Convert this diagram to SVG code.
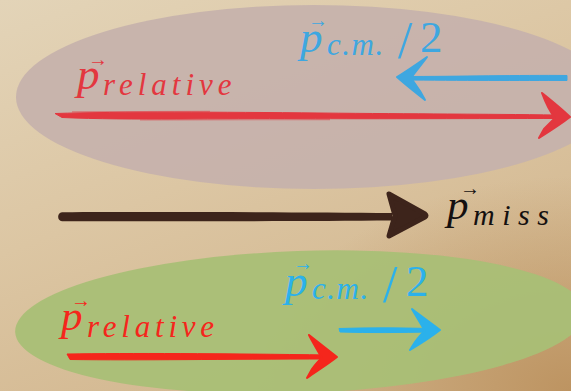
<svg xmlns="http://www.w3.org/2000/svg" width="571" height="391" viewBox="0 0 571 391">
<defs>
<linearGradient id="bg" x1="0" y1="0" x2="0.55" y2="1">
<stop offset="0" stop-color="#e3d4b8"/>
<stop offset="0.5" stop-color="#dcc6a3"/>
<stop offset="1" stop-color="#d2b68e"/>
</linearGradient>
<radialGradient id="vig" cx="1" cy="1" r="0.55">
<stop offset="0" stop-color="#b4854e" stop-opacity="0.7"/>
<stop offset="1" stop-color="#b4854e" stop-opacity="0"/>
</radialGradient>
</defs>

<g id="background">
<rect width="571" height="391" fill="url(#bg)"/>
<rect width="571" height="391" fill="url(#vig)"/>
</g>

<g id="ellipse-top">
<ellipse cx="314" cy="97" rx="298" ry="92" fill="#c6b2ac" opacity="0.95"/>
</g>
<g id="ellipse-bottom">
<ellipse cx="300" cy="322" rx="285" ry="71" fill="#a9bf76" opacity="0.95" transform="rotate(-2 300 322)"/>
</g>

<g id="connectors" stroke-linejoin="round">
<g id="arrow-top-red" fill="#e3373f" stroke="#e3373f">
<path stroke-width="1" d="M55,113.5 C120,111.5 220,112 320,113 S480,114 558,115 L558,118.5 C480,118.5 380,119 300,118.6 S130,120.5 62,117.5 Z"/>
<path fill="none" stroke-width="1.2" opacity="0.5" d="M72,111.8 L210,111.4 M140,120 L330,119.6"/>
<path stroke-width="2" d="M542,93 C552,101 562,109 570,117 C561,124 550,131 539,138 L544,129 C548,125 552,121 555,118 C551,113 546,104 542,93 Z"/>
</g>
<g id="arrow-top-blue" fill="#3ea7e0" stroke="#3ea7e0">
<path stroke-width="1" d="M567,75.5 C520,75 460,76.5 402,76.5 L402,80 C460,80.5 520,80.5 567,80.5 Z"/>
<path stroke-width="2" d="M427,57 C417,64 407,71 397,77 C406,85 415,92 425,100 L420,91 C417,87 414,82 411,78 C416,71 422,64 427,57 Z"/>
</g>
<g id="arrow-miss" fill="#3d241b">
<path d="M62,212.3 C150,211.8 300,212.2 392,213 L392,220.5 C300,221.2 150,221.6 62,221.2 A4.5,4.5 0 0 1 62,212.3 Z"/>
<path stroke="#3d241b" stroke-width="5" d="M389,194 L425,214 Q427,215.5 425,217 L389,236 L395,215.5 Z"/>
</g>
<g id="arrow-bottom-red" fill="#f5261c" stroke="#f5261c">
<path stroke-width="1" d="M67,354 C130,353 220,353.5 330,355 L330,359 C220,359 140,360.5 70,359.5 Z"/>
<path stroke-width="2" d="M309,335 C318,342 328,350 337,357 C328,364 317,371 307,378 L312,369 C315,365 318,361 322,358 C318,351 313,343 309,335 Z"/>
</g>
<g id="arrow-bottom-blue" fill="#2bb1eb" stroke="#2bb1eb">
<path stroke-width="1" d="M339,328.5 C370,327.5 400,327.8 432,328.5 L432,332 C400,332.5 370,333 340,332 Z"/>
<path stroke-width="2" d="M412,309 C421,316 431,323 440,330 C431,337 420,344 410,350 L415,342 C418,338 421,334 425,331 C421,324 416,316 412,309 Z"/>
</g>
</g>

<g id="label-top-relative">
<text x="77" y="89" font-family="Liberation Serif" font-style="italic" font-size="45" fill="#e3373f">p</text>
<text x="103" y="95" font-family="Liberation Serif" font-style="italic" font-size="31" letter-spacing="5" fill="#e3373f">relative</text>
<text x="88" y="66" font-family="Liberation Serif" font-size="20" fill="#e3373f">→</text>
</g>

<g id="label-top-cm">
<text x="300" y="52" font-family="Liberation Serif" font-style="italic" font-size="45" fill="#3ea7e0">p</text>
<text x="327" y="55" font-family="Liberation Serif" font-style="italic" font-size="31" letter-spacing="1.5" fill="#3ea7e0">c.m.</text>
<text x="398" y="58" font-family="Liberation Serif" font-size="52" fill="#3ea7e0">/</text>
<text x="420" y="52" font-family="Liberation Serif" font-size="45" fill="#3ea7e0">2</text>
<text x="308" y="27" font-family="Liberation Serif" font-size="20" fill="#3ea7e0">→</text>
</g>

<g id="label-miss">
<text x="447" y="219" font-family="Liberation Serif" font-style="italic" font-size="43" fill="#141010">p</text>
<text x="473" y="225" font-family="Liberation Serif" font-style="italic" font-size="30" letter-spacing="7.5" fill="#141010">miss</text>
<text x="460" y="195" font-family="Liberation Serif" font-size="20" fill="#141010">→</text>
</g>

<g id="label-bottom-cm">
<text x="285" y="296" font-family="Liberation Serif" font-style="italic" font-size="45" fill="#2bb1eb">p</text>
<text x="312" y="299" font-family="Liberation Serif" font-style="italic" font-size="31" letter-spacing="1.5" fill="#2bb1eb">c.m.</text>
<text x="383" y="302" font-family="Liberation Serif" font-size="52" fill="#2bb1eb">/</text>
<text x="406" y="296" font-family="Liberation Serif" font-size="45" fill="#2bb1eb">2</text>
<text x="293" y="270" font-family="Liberation Serif" font-size="20" fill="#2bb1eb">→</text>
</g>

<g id="label-bottom-relative">
<text x="61" y="330" font-family="Liberation Serif" font-style="italic" font-size="43" fill="#f5261c">p</text>
<text x="87" y="337" font-family="Liberation Serif" font-style="italic" font-size="31" letter-spacing="4.8" fill="#f5261c">relative</text>
<text x="71" y="307" font-family="Liberation Serif" font-size="20" fill="#f5261c">→</text>
</g>
</svg>
